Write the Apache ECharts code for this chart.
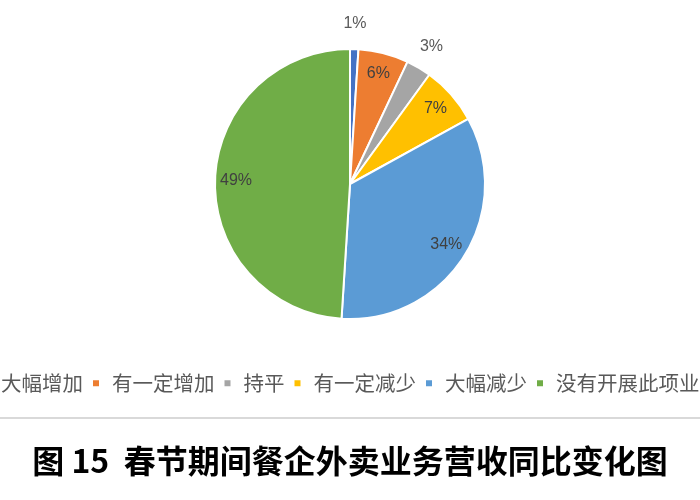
<!DOCTYPE html>
<html>
<head>
<meta charset="utf-8">
<script src="https://cdn.jsdelivr.net/npm/echarts@6/dist/echarts.min.js"></script>
<style>
html,body{margin:0;padding:0;background:#fff;}
#chart{width:700px;height:500px;}
</style>
</head>
<body>
<div id="chart"></div>
<script>
const categories = ['大幅增加', '有一定增加', '持平', '有一定减少', '大幅减少', '没有开展此项业务'];
const values = [1, 6, 3, 7, 34, 49];
const colors = ['#4472C4', '#ED7D31', '#A5A5A5', '#FFC000', '#5B9BD5', '#70AD47'];
const titleText = '图 15  春节期间餐企外卖业务营收同比变化图';

const chart = echarts.init(document.getElementById('chart'));
const mainData = categories.map((c, i) => ({ name: c, value: values[i], itemStyle: { color: colors[i] } }));
const ghostData = categories.map((c, i) => ({ name: c, value: values[i] }));
const numFont = '"Liberation Sans", Arial, sans-serif';

chart.setOption({
  animation: false,
  backgroundColor: '#fff',
  title: {
    text: titleText,
    left: 'center',
    top: 445,
    padding: 0,
    textStyle: { fontSize: 32, fontWeight: 'bold', color: '#000', fontFamily: '"Noto Sans CJK SC", sans-serif' }
  },
  legend: {
    data: categories,
    left: -20,
    top: 373,
    padding: 0,
    width: 1200,
    icon: 'rect',
    itemWidth: 8,
    itemHeight: 8,
    itemGap: 8,
    selectedMode: false,
    textStyle: { fontSize: 20.5, color: '#595959', padding: [0, 0, 0, 7], fontFamily: '"Noto Sans CJK SC", sans-serif' }
  },
  graphic: [{
    type: 'line',
    shape: { x1: 0, y1: 418, x2: 700, y2: 418 },
    style: { stroke: '#d9d9d9', lineWidth: 2 }
  }],
  series: [
    {
      type: 'pie',
      center: [350, 184],
      radius: 135,
      startAngle: 90,
      clockwise: true,
      silent: true,
      itemStyle: { borderColor: '#fff', borderWidth: 2 },
      label: { show: false },
      labelLine: { show: false },
      data: mainData
    },
    {
      type: 'pie',
      center: [350, 184],
      radius: [87, 135],
      startAngle: 90,
      clockwise: true,
      silent: true,
      avoidLabelOverlap: false,
      itemStyle: { color: 'rgba(0,0,0,0)', borderWidth: 0 },
      label: {
        show: true, position: 'inside',
        formatter: p => (p.value >= 5 ? p.value + '%' : ''),
        color: '#404040', fontSize: 16, fontFamily: numFont
      },
      labelLine: { show: false },
      data: ghostData
    },
    {
      type: 'pie',
      center: [350, 184],
      radius: [150, 164],
      startAngle: 90,
      clockwise: true,
      silent: true,
      avoidLabelOverlap: false,
      itemStyle: { color: 'rgba(0,0,0,0)', borderWidth: 0 },
      label: {
        show: true, position: 'inside',
        formatter: p => (p.value < 5 ? p.value + '%' : ''),
        color: '#595959', fontSize: 16, fontFamily: numFont
      },
      labelLine: { show: false },
      data: ghostData
    }
  ]
});
</script>
</body>
</html>
